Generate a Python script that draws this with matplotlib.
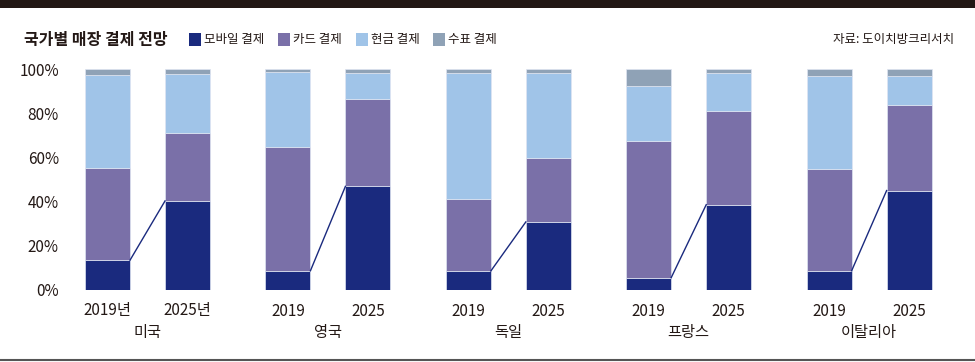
import matplotlib
matplotlib.use("Agg")
import matplotlib.pyplot as plt
import matplotlib.transforms as mtransforms
import numpy as np

plt.rcParams['font.family'] = ['Noto Sans CJK KR', 'DejaVu Sans']

countries = ["미국", "영국", "독일", "프랑스", "이탈리아"]
years = ["2019", "2025"]
year_labels_first = ["2019년", "2025년"]
series = ["모바일 결제", "카드 결제", "현금 결제", "수표 결제"]

# shares (%) in order: 미국19, 미국25, 영국19, 영국25, 독일19, 독일25, 프랑스19, 프랑스25, 이탈리아19, 이탈리아25
mobile = [13.5, 40.3, 8.7, 46.9, 8.6, 30.8, 5.6, 38.6, 8.7, 45.0]
card   = [41.8, 30.8, 56.0, 39.3, 32.7, 29.0, 61.9, 42.4, 46.2, 38.5]
cash   = [42.1, 26.6, 33.8, 11.8, 56.7, 38.2, 24.7, 17.0, 42.1, 13.5]
check  = [2.6, 2.3, 1.5, 2.0, 2.0, 2.0, 7.8, 2.0, 3.0, 3.0]

colors = ["#1a2a7e", "#7a70a8", "#a0c4e8", "#8fa2b6"]
ink = "#231815"

W, H = 975, 362
fig = plt.figure(figsize=(W / 100, H / 100), dpi=100)

# top band and bottom rule
fig.add_artist(plt.Rectangle((0, 1 - 8 / H), 1, 8 / H, transform=fig.transFigure,
                             color=ink, lw=0))
fig.add_artist(plt.Line2D([0, 1], [2.5 / H, 2.5 / H], transform=fig.transFigure,
                          color="#555555", lw=1.5))

ax = fig.add_axes([70 / W, (H - 290) / H, 880 / W, 221 / H])

gap = 2.255
width = 0.5625
pos = np.array([g * gap + j for g in range(len(countries)) for j in range(2)])

bottom = np.zeros(len(pos))
for vals, col in zip([mobile, card, cash, check], colors):
    ax.bar(pos, vals, width=width, bottom=bottom, color=col,
           edgecolor="#dfe5f2", linewidth=0.5, zorder=2)
    bottom += np.array(vals)

# connector lines between mobile tops
for g in range(len(countries)):
    a, b = 2 * g, 2 * g + 1
    ax.plot([pos[a] + width / 2, pos[b] - width / 2], [mobile[a], mobile[b]],
            color="#1a2a7e", lw=1.0, zorder=3, clip_on=False)

ax.set_xlim(-0.469, 10.531)
ax.set_ylim(0, 100)
ax.set_yticks(range(0, 101, 20))
ax.set_yticklabels([f"{v}%" for v in range(0, 101, 20)], fontsize=11,
                   color=ink, fontweight="medium")
ax.tick_params(axis="y", length=0, pad=8)
ax.set_xticks([])
for s in ax.spines.values():
    s.set_visible(False)

trans = mtransforms.blended_transform_factory(ax.transData, fig.transFigure)
for g, name in enumerate(countries):
    labs = year_labels_first if g == 0 else years
    for j in range(2):
        ax.text(pos[2 * g + j], 1 - 311 / H, labs[j], transform=trans,
                ha="center", va="center", fontsize=11, color=ink,
                fontweight="medium")
    ax.text((pos[2 * g] + pos[2 * g + 1]) / 2, 1 - 333 / H, name, transform=trans,
            ha="center", va="center", fontsize=11, color=ink, fontweight="medium")

# title, legend, source
ty = 1 - 40 / H
fig.text(24 / W, ty, "국가별 매장 결제 전망", fontsize=11.5, fontweight="bold",
         ha="left", va="center", color=ink)
leg_x = [189, 278, 356, 433]
for x0, lab, col in zip(leg_x, series, colors):
    fig.add_artist(plt.Rectangle((x0 / W, 1 - 46 / H), 12 / W, 13 / H,
                                 transform=fig.transFigure, color=col, lw=0))
    fig.text((x0 + 15) / W, ty, lab, fontsize=9, ha="left", va="center",
             color=ink, fontweight="medium")
fig.text(954 / W, ty, "자료: 도이치방크리서치", fontsize=9, ha="right", va="center",
         color=ink, fontweight="medium")

fig.savefig("out.png", dpi=100)
